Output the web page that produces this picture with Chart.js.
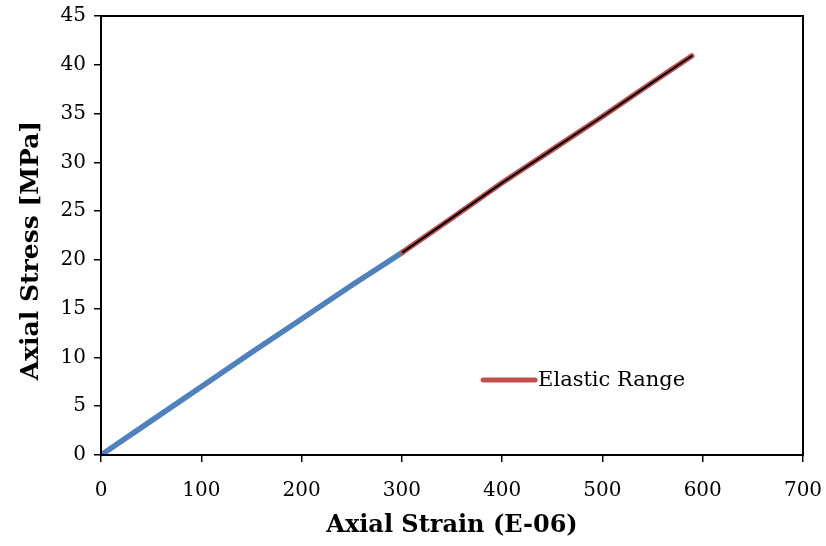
<!DOCTYPE html>
<html>
<head>
<meta charset="utf-8">
<script src="https://cdn.jsdelivr.net/npm/chart.js@4.4.1/dist/chart.umd.min.js"></script>
<style>
  html, body { margin: 0; padding: 0; background: #fff; }
  #wrap { width: 826px; height: 546px; }
</style>
</head>
<body>
<div id="wrap"><canvas id="c" width="826" height="546"></canvas></div>
<script>
// Loading branch (below 300 microstrain)
const loadStrain = [0, 50, 100, 150, 200, 250, 301];
const loadStress = [0, 3.5, 7.0, 10.5, 13.95, 17.4, 20.8];

// Elastic range (300 microstrain and above)
const elasticStrain = [301, 350, 400, 450, 500, 550, 589];
const elasticStress = [20.8, 24.3, 27.9, 31.3, 34.7, 38.2, 40.9];

const xTicks = [0, 100, 200, 300, 400, 500, 600, 700];
const yTicks = [0, 5, 10, 15, 20, 25, 30, 35, 40, 45];

const yTitle = 'Axial Stress [MPa]';
const xTitle = 'Axial Strain (E-06)';

const toPoints = (xs, ys) => xs.map((x, i) => ({ x: x, y: ys[i] }));

const SERIF = "'DejaVu Serif', 'Liberation Serif', serif";

// Frame around the plotting area and the vertical axis title
const framePlugin = {
  id: 'frame',
  afterDraw(chart) {
    const a = chart.chartArea, ctx = chart.ctx;
    ctx.save();
    ctx.strokeStyle = '#000';
    ctx.lineWidth = 2;
    ctx.strokeRect(a.left, a.top, a.right - a.left, a.bottom - a.top);
    ctx.translate(31, a.top + (a.bottom - a.top) / 2 + 15);
    ctx.rotate(-Math.PI / 2);
    ctx.fillStyle = '#000';
    ctx.font = "bold 25px " + SERIF;
    ctx.textAlign = 'center';
    ctx.textBaseline = 'middle';
    ctx.fillText(yTitle, 0, 0);
    ctx.restore();
  }
};

// Legend entry drawn inside the plot area
const insideLegend = {
  id: 'insideLegend',
  afterDraw(chart) {
    const ds = chart.data.datasets[1];
    const xs = chart.scales.x, ys = chart.scales.y;
    const ctx = chart.ctx;
    const lx = xs.getPixelForValue(380), ly = ys.getPixelForValue(7.7);
    ctx.save();
    ctx.strokeStyle = ds.borderColor;
    ctx.lineWidth = 5;
    ctx.lineCap = 'round';
    ctx.beginPath();
    ctx.moveTo(lx + 1, ly);
    ctx.lineTo(lx + 53, ly);
    ctx.stroke();
    ctx.fillStyle = '#000';
    ctx.font = "21px " + SERIF;
    ctx.textBaseline = 'middle';
    ctx.textAlign = 'left';
    ctx.fillText(ds.label, lx + 56, ly + 1);
    ctx.restore();
  }
};

new Chart(document.getElementById('c'), {
  type: 'scatter',
  data: {
    datasets: [
      {
        label: 'Loading',
        data: toPoints(loadStrain, loadStress),
        showLine: true,
        borderColor: '#4F81BD',
        borderWidth: 5.5,
        borderCapStyle: 'round',
        pointRadius: 0,
        tension: 0,
        order: 3
      },
      {
        label: 'Elastic Range',
        data: toPoints(elasticStrain, elasticStress),
        showLine: true,
        borderColor: '#C0504D',
        borderWidth: 5.5,
        borderCapStyle: 'round',
        pointRadius: 0,
        tension: 0,
        order: 2
      },
      {
        label: 'Fit',
        data: toPoints(elasticStrain, elasticStress),
        showLine: true,
        borderColor: '#000',
        borderWidth: 2,
        borderCapStyle: 'round',
        pointRadius: 0,
        tension: 0,
        order: 1
      }
    ]
  },
  options: {
    responsive: false,
    animation: false,
    layout: { padding: { top: 16, right: 23, left: 0, bottom: 0 } },
    plugins: {
      legend: { display: false },
      tooltip: { enabled: false }
    },
    scales: {
      x: {
        type: 'linear',
        min: 0, max: 700,
        afterBuildTicks(scale) { scale.ticks = xTicks.map(v => ({ value: v })); },
        afterFit(scale) { scale.height = 91; scale.paddingLeft = 0; scale.paddingRight = 0; },
        border: { display: true, color: '#000', width: 2 },
        grid: { drawOnChartArea: false, drawTicks: true, tickLength: 7, color: '#000', lineWidth: 1.5 },
        ticks: { color: '#000', font: { family: SERIF, size: 20 }, padding: 17, maxRotation: 0 },
        title: {
          display: true,
          text: xTitle,
          color: '#000',
          font: { family: SERIF, size: 24, weight: 'bold' },
          padding: { top: 0, bottom: 6 }
        }
      },
      y: {
        type: 'linear',
        min: 0, max: 45,
        afterBuildTicks(scale) { scale.ticks = yTicks.map(v => ({ value: v })); },
        afterFit(scale) { scale.width = 101; scale.paddingTop = 0; scale.paddingBottom = 0; },
        border: { display: true, color: '#000', width: 2 },
        grid: { drawOnChartArea: false, drawTicks: true, tickLength: 7, color: '#000', lineWidth: 1.5 },
        ticks: { color: '#000', font: { family: SERIF, size: 20 }, padding: 8 }
      }
    }
  },
  plugins: [framePlugin, insideLegend]
});
</script>
</body>
</html>
